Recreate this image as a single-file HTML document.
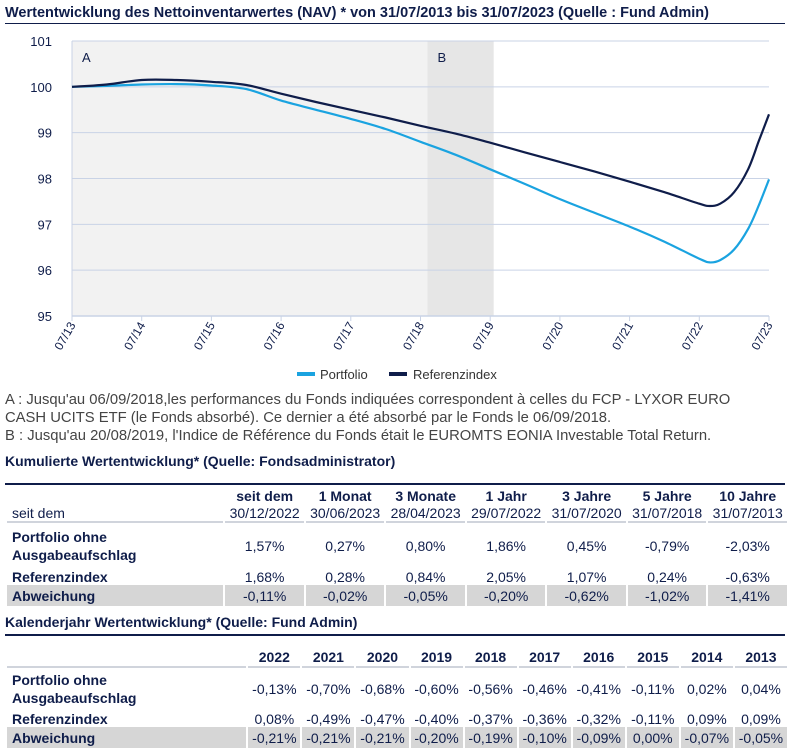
<!DOCTYPE html>
<html><head><meta charset="utf-8">
<style>
body{margin:0;background:#fff;font-family:"Liberation Sans",Arial,sans-serif;width:790px;height:750px;overflow:hidden;position:relative;color:#0f1d4a}
.t{position:absolute;left:5px;font-weight:bold;color:#0f1d4a}
.rule{position:absolute;left:5px;width:780px;height:2px;background:#0f1d4a}
table{position:absolute;left:5px;border-collapse:separate;border-spacing:2px 0;font-size:14px;color:#0f1d4a}
td{padding:0;text-align:center;white-space:nowrap}
td.l{text-align:left;padding-left:5px;font-weight:bold}
.hb{font-weight:bold}
.ul td{border-bottom:2px solid #d0d4dc}
.gr td{background:#d6d6d6}
.note{position:absolute;left:5px;font-size:14.8px;color:#444;line-height:18px;width:780px;white-space:nowrap}
</style></head><body>
<div class="t" style="top:5px;font-size:14.5px">Wertentwicklung des Nettoinventarwertes (NAV) * von 31/07/2013 bis 31/07/2023 (Quelle : Fund Admin)</div>
<div class="rule" style="top:23px;height:1px"></div>
<svg id="chart" width="790" height="390" style="position:absolute;left:0;top:0" font-family="Liberation Sans, Arial, sans-serif"></svg>
<div class="note" style="top:391px">A : Jusqu'au 06/09/2018,les performances du Fonds indiquées correspondent à celles du FCP - LYXOR EURO<br>CASH UCITS ETF (le Fonds absorbé). Ce dernier a été absorbé par le Fonds le 06/09/2018.<br>B : Jusqu'au 20/08/2019, l'Indice de Référence du Fonds était le EUROMTS EONIA Investable Total Return.</div>

<div class="t" style="top:453px;font-size:14px">Kumulierte Wertentwicklung* (Quelle: Fondsadministrator)</div>
<div class="rule" style="top:483px;height:1.5px"></div>
<table style="top:486px;width:784px">
<colgroup><col style="width:215px"><col span="7" style="width:78px"></colgroup>
<tr style="height:19px" class="hb"><td></td><td>seit dem</td><td>1 Monat</td><td>3 Monate</td><td>1 Jahr</td><td>3 Jahre</td><td>5 Jahre</td><td>10 Jahre</td></tr>
<tr style="height:18px" class="ul"><td class="l" style="font-weight:normal">seit dem</td><td>30/12/2022</td><td>30/06/2023</td><td>28/04/2023</td><td>29/07/2022</td><td>31/07/2020</td><td>31/07/2018</td><td>31/07/2013</td></tr>
<tr style="height:45px"><td class="l" style="line-height:18px">Portfolio ohne<br>Ausgabeaufschlag</td><td>1,57%</td><td>0,27%</td><td>0,80%</td><td>1,86%</td><td>0,45%</td><td>-0,79%</td><td>-2,03%</td></tr>
<tr style="height:17px"><td class="l">Referenzindex</td><td>1,68%</td><td>0,28%</td><td>0,84%</td><td>2,05%</td><td>1,07%</td><td>0,24%</td><td>-0,63%</td></tr>
<tr style="height:21px" class="gr"><td class="l">Abweichung</td><td>-0,11%</td><td>-0,02%</td><td>-0,05%</td><td>-0,20%</td><td>-0,62%</td><td>-1,02%</td><td>-1,41%</td></tr>
</table>

<div class="t" style="top:614px;font-size:14px">Kalenderjahr Wertentwicklung* (Quelle: Fund Admin)</div>
<div class="rule" style="top:634px;height:1.5px"></div>
<table style="top:647px;width:784px">
<colgroup><col style="width:239px"><col span="10" style="width:52px"></colgroup>
<tr style="height:21px" class="hb ul"><td></td><td>2022</td><td>2021</td><td>2020</td><td>2019</td><td>2018</td><td>2017</td><td>2016</td><td>2015</td><td>2014</td><td>2013</td></tr>
<tr style="height:42px"><td class="l" style="line-height:18px">Portfolio ohne<br>Ausgabeaufschlag</td><td>-0,13%</td><td>-0,70%</td><td>-0,68%</td><td>-0,60%</td><td>-0,56%</td><td>-0,46%</td><td>-0,41%</td><td>-0,11%</td><td>0,02%</td><td>0,04%</td></tr>
<tr style="height:17px"><td class="l">Referenzindex</td><td>0,08%</td><td>-0,49%</td><td>-0,47%</td><td>-0,40%</td><td>-0,37%</td><td>-0,36%</td><td>-0,32%</td><td>-0,11%</td><td>0,09%</td><td>0,09%</td></tr>
<tr style="height:21px" class="gr"><td class="l">Abweichung</td><td>-0,21%</td><td>-0,21%</td><td>-0,21%</td><td>-0,20%</td><td>-0,19%</td><td>-0,10%</td><td>-0,09%</td><td>0,00%</td><td>-0,07%</td><td>-0,05%</td></tr>
</table>

<script>
const xTickLabels=["07/13","07/14","07/15","07/16","07/17","07/18","07/19","07/20","07/21","07/22","07/23"];
const yTicks=[95,96,97,98,99,100,101];
const times=[0,0.5,1,1.5,2,2.5,3,3.5,4,4.5,5,5.5,6,6.5,7,7.5,8,8.5,9,9.15,9.3,9.5,9.7,9.85,10];
const portfolio=[100,100.02,100.05,100.06,100.03,99.95,99.7,99.5,99.3,99.08,98.8,98.52,98.2,97.88,97.55,97.25,96.95,96.62,96.25,96.17,96.22,96.45,96.9,97.4,97.98];
const referenz=[100,100.05,100.15,100.15,100.11,100.04,99.85,99.67,99.5,99.33,99.15,98.98,98.78,98.57,98.36,98.15,97.93,97.7,97.45,97.4,97.45,97.7,98.2,98.8,99.4];
const periodA=[0,5.1];const periodB=[5.1,6.05];
const NS="http://www.w3.org/2000/svg";
const svg=document.getElementById('chart');
const x0=72,x1=769,y0=316,y1=41;
const X=t=>x0+(x1-x0)*t/10;
const Y=v=>y0-(y0-y1)*(v-95)/6;
function mk(tag,a){const e=document.createElementNS(NS,tag);for(const k in a)e.setAttribute(k,a[k]);svg.appendChild(e);return e;}
let e=mk('rect',{x:X(periodA[0]),y:y1,width:X(periodA[1])-X(periodA[0]),height:y0-y1,fill:'#f2f2f2'});

e=mk('rect',{x:X(periodB[0]),y:y1,width:X(periodB[1])-X(periodB[0]),height:y0-y1,fill:'#e6e6e6'});

e=mk('text',{x:X(periodA[0])+10,y:62,'font-size':13,fill:'#0f1d4a'});e.textContent='A';

e=mk('text',{x:X(periodB[0])+10,y:62,'font-size':13,fill:'#0f1d4a'});e.textContent='B';

yTicks.forEach(v=>{
 const g=mk('line',{x1:x0,x2:x1,y1:Y(v),y2:Y(v),stroke:'#c9d3e6','stroke-width':1});
 
 const t=mk('text',{x:52,y:Y(v)+5,'font-size':13,fill:'#0f1d4a','text-anchor':'end'});t.textContent=v;
 
});
e=mk('line',{x1:x0,x2:x0,y1:y1,y2:y0,stroke:'#c9d3e6'});
e=mk('line',{x1:x0,x2:x1,y1:y0,y2:y0,stroke:'#c9d3e6','stroke-width':1.5});
xTickLabels.forEach((l,i)=>{
 const x=X(i);
 const k=mk('line',{x1:x,x2:x,y1:y0,y2:y0+5,stroke:'#c9d3e6'});
 
 const t=mk('text',{x:x+4,y:y0+9,'font-size':12,fill:'#0f1d4a','text-anchor':'end',transform:`rotate(-60 ${x+4} ${y0+9})`});t.textContent=l;
 
});
function line(vals,col,name){
 const P=vals.map((v,i)=>[X(times[i]),Y(v)]);
 let d='M'+P[0][0].toFixed(1)+','+P[0][1].toFixed(1);
 for(let i=0;i<P.length-1;i++){
  const p0=P[Math.max(0,i-1)],p1=P[i],p2=P[i+1],p3=P[Math.min(P.length-1,i+2)];
  const c1=[p1[0]+(p2[0]-p0[0])/6,p1[1]+(p2[1]-p0[1])/6];
  const c2=[p2[0]-(p3[0]-p1[0])/6,p2[1]-(p3[1]-p1[1])/6];
  d+=` C${c1[0].toFixed(1)},${c1[1].toFixed(1)} ${c2[0].toFixed(1)},${c2[1].toFixed(1)} ${p2[0].toFixed(1)},${p2[1].toFixed(1)}`;
 }
 const p=mk('path',{d:d,fill:'none',stroke:col,'stroke-width':2.2,'stroke-linejoin':'round'});
 
}
line(portfolio,'#1aa3e0','portfolio-line');
line(referenz,'#0f1d4a','referenzindex-line');
e=mk('rect',{x:297,y:372,width:18,height:4,fill:'#1aa3e0'});
e=mk('text',{x:320,y:379,'font-size':13,fill:'#333'});e.textContent='Portfolio';
e=mk('rect',{x:389,y:372,width:18,height:4,fill:'#0f1d4a'});
e=mk('text',{x:413,y:379,'font-size':13,fill:'#333'});e.textContent='Referenzindex';
</script>
</body></html>
